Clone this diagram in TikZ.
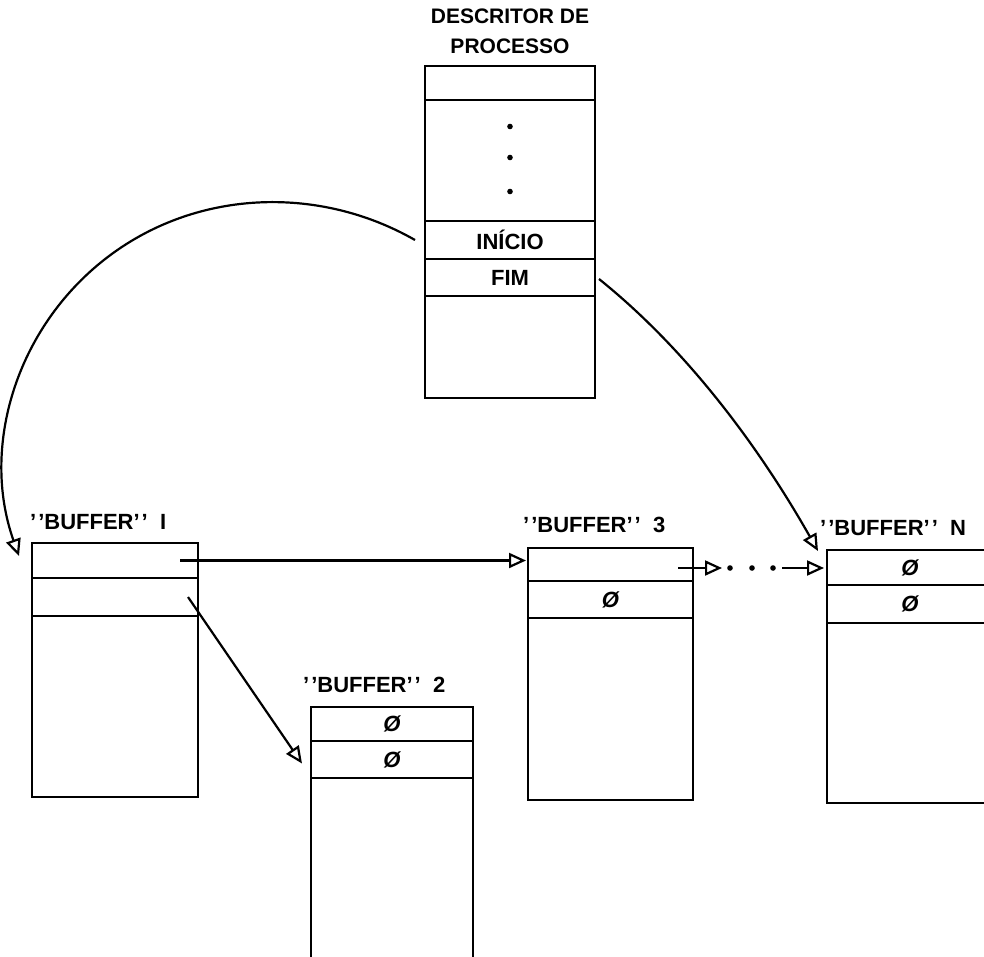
\documentclass[tikz,border=0pt]{standalone}
\usepackage{fontspec}
\setmainfont{Liberation Sans}
\usetikzlibrary{arrows.meta}
\newcommand\bq{’\kern2pt’}
\newcommand\nul{{\itshape Ø}}
\begin{document}
\begin{tikzpicture}[x=1pt,y=-1pt,
  cell/.style={draw, line width=2.8pt, inner sep=0pt, outer sep=0pt,
    font=\fontsize{22}{24}\selectfont\bfseries},
  dcell/.style={cell, minimum width=170pt},
  lab/.style={anchor=west, inner sep=0pt, font=\fontsize{22}{24}\selectfont\bfseries},
  arr/.style={line width=2.2pt, -{Triangle[open, length=17pt, width=15pt, line width=2.2pt]}}]
\useasboundingbox (0,0) rectangle (984,956);
\clip (0,0) rectangle (984,956);

% process descriptor
\node[inner sep=0pt, align=center, font=\fontsize{21}{30}\selectfont\bfseries] (title) at (510,31) {DESCRITOR DE\\PROCESSO};
\node[dcell, minimum height=34pt]  (d1) at (510,83) {};
\node[dcell, minimum height=121pt] (d2) at (510,160.5) {};
\node[dcell, minimum height=38pt]  (d3) at (510,240) {INÍCIO};
\node[dcell, minimum height=37pt]  (d4) at (510,277.5) {FIM};
\node[dcell, minimum height=102pt] (d5) at (510,347) {};
\foreach \dy in {-34,-3,31} \fill ([yshift=-\dy pt]d2.center) circle (2.8pt);

% buffer 1
\node[lab] (l1) at (30,522) {\bq BUFFER\bq\ \ I};
\node[cell, minimum width=166pt, minimum height=35pt]  (b1a) at (115,560.5) {};
\node[cell, minimum width=166pt, minimum height=38pt]  (b1b) at (115,597) {};
\node[cell, minimum width=166pt, minimum height=181pt] (b1c) at (115,706.5) {};

% buffer 2
\node[lab] (l2) at (303,685) {\bq BUFFER\bq\ \ 2};
\node[cell, minimum width=162pt, minimum height=34pt]  (b2a) at (392,724) {\nul};
\node[cell, minimum width=162pt, minimum height=37pt]  (b2b) at (392,759.5) {\nul};
\node[cell, minimum width=162pt, minimum height=212pt] (b2c) at (392,884) {};

% buffer 3
\node[lab] (l3) at (523,525) {\bq BUFFER\bq\ \ 3};
\node[cell, minimum width=165pt, minimum height=33pt]  (b3a) at (610.5,564.5) {};
\node[cell, minimum width=165pt, minimum height=37pt]  (b3b) at (610.5,599.5) {\nul};
\node[cell, minimum width=165pt, minimum height=182pt] (b3c) at (610.5,709) {};

% buffer N
\node[lab] (ln) at (820,528) {\bq BUFFER\bq\ \ N};
\node[cell, minimum width=166pt, minimum height=35pt]  (bna) at (910,567.5) {\nul};
\node[cell, minimum width=166pt, minimum height=38pt]  (bnb) at (910,604) {\nul};
\node[cell, minimum width=166pt, minimum height=180pt] (bnc) at (910,713) {};

% connectors
\draw[arr] ([xshift=-10pt]d3.west)
  .. controls (317.4,184.2) and (194.0,189.5) .. (104.9,259.2)
  .. controls (15.8,328.9) and (-19.5,447.3) .. ([xshift=-13pt,yshift=-13pt]b1a.north west);
\draw[arr] ([xshift=4pt,yshift=-1.5pt]d4.east)
  .. controls (690,352) and (762,452) .. ([xshift=-9pt,yshift=-1pt]bna.north west);
\draw[arr] ([xshift=-18pt]b1a.east) -- ([xshift=-2pt]b3a.west |- b1a.east);
\draw[arr] ([xshift=-10pt]b1b.east) -- ([xshift=-9pt,yshift=-4pt]b2b.west);

\coordinate (ga) at (722,568);
\coordinate (gb) at (782,568);
\draw[arr] ([xshift=-15pt]b3a.east |- ga) -- (ga);
\foreach \x in {730,752,773} \fill (\x,568) circle (2.8pt);
\draw[arr] (gb) -- ([xshift=-3pt]bna.west |- gb);
\end{tikzpicture}
\end{document}
